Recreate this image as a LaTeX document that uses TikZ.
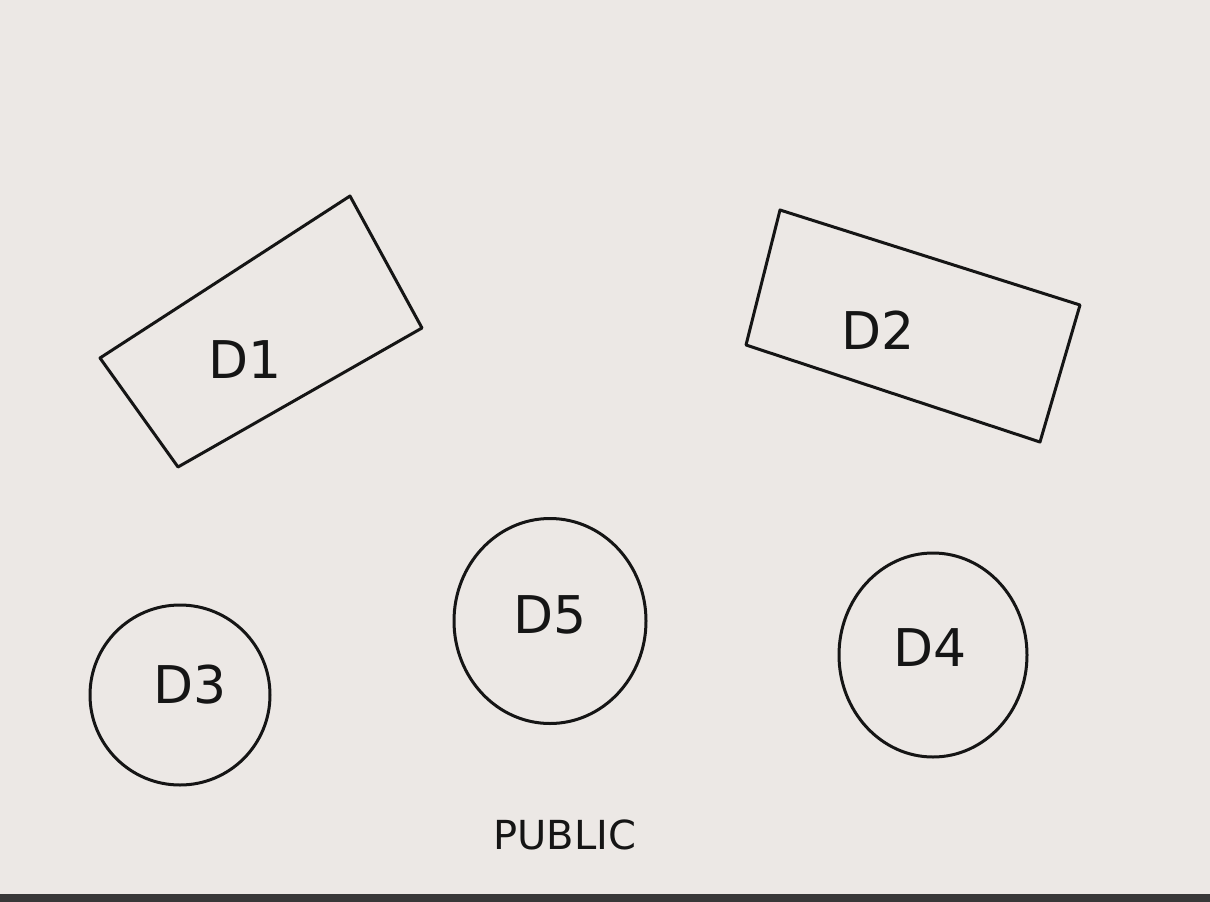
\documentclass[tikz,border=0pt]{standalone}
\usepackage{fontspec}
\setmainfont{DejaVu Sans}
\usetikzlibrary{shapes.geometric}
\definecolor{paper}{HTML}{ECE8E5}
\definecolor{ink}{HTML}{151515}
\tikzset{
  sketch/.style={draw=ink, line width=3pt, line join=round, line cap=round},
  circnode/.style={sketch, ellipse, inner sep=0pt, text=ink, font=\fontsize{52}{56}\selectfont},
  lbl/.style={text=ink, font=\fontsize{52}{56}\selectfont},
}
\begin{document}
\begin{tikzpicture}[x=1pt,y=-1pt]
\fill[paper] (0,0) rectangle (1210,902);
\fill[ink!85] (0,894) rectangle (1210,902);
\useasboundingbox (0,0) rectangle (1210,902);
% rectangle D1
\coordinate (a1) at (100,358);
\coordinate (a2) at (350,196);
\coordinate (a3) at (422,328);
\coordinate (a4) at (178,467);
\draw[sketch] (a1) -- (a2) -- (a3) -- (a4) -- cycle;
% rectangle D2
\coordinate (b1) at (780,210);
\coordinate (b2) at (1080,305);
\coordinate (b3) at (1040,442);
\coordinate (b4) at (746,345);
\draw[sketch] (b1) -- (b2) -- (b3) -- (b4) -- cycle;
% labels in rectangles
\node[lbl] (t1) at (245,360) {D1};
\node[lbl] (t2) at (878,330) {D2};
% circles with labels
\node[circnode, minimum width=180pt, minimum height=180pt] (d3) at (180,695) {};
\node[circnode, minimum width=192pt, minimum height=205pt] (d5) at (550,621) {};
\node[circnode, minimum width=188pt, minimum height=204pt] (d4) at (933,655) {};
\node[lbl] (t3) at (190,685) {D3};
\node[lbl] (t5) at (550,615) {D5};
\node[lbl] (t4) at (930,648) {D4};
\node[text=ink, font=\fontsize{40}{44}\selectfont] (pub) at (565,835) {PUBLIC};
\end{tikzpicture}
\end{document}
